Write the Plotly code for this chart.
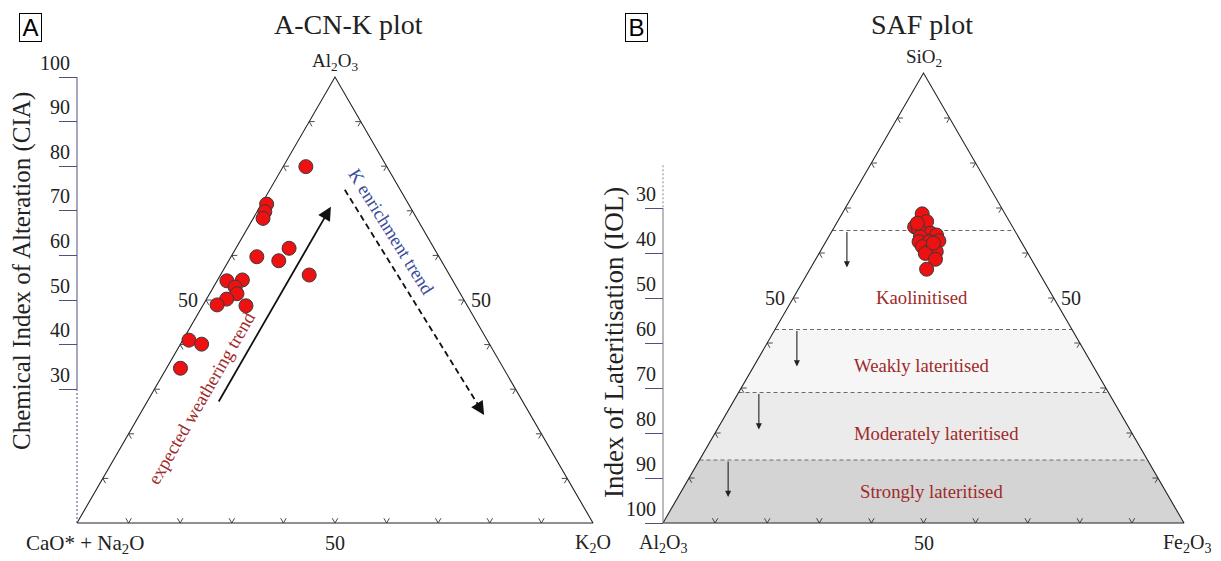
import math
import plotly.graph_objects as go

# ---------------- data (molar proportions) ----------------
# Panel A : A-CN-K diagram  (A = Al2O3, CN = CaO* + Na2O, K = K2O)
acnk_A = [79.9, 71.5, 69.8, 68.3, 59.7, 61.6, 58.8, 55.6, 54.3, 54.5, 52.9, 51.4, 50.2, 48.9, 48.7, 41.0, 40.1, 34.7]
acnk_CN = [15.7, 27.5, 28.7, 29.8, 35.3, 28.1, 31.5, 27.2, 43.8, 40.7, 42.9, 43.3, 45.9, 48.4, 42.9, 57.8, 55.8, 62.6]
acnk_K = [4.4, 1.0, 1.5, 1.9, 5.0, 10.3, 9.7, 17.2, 1.9, 4.8, 4.2, 5.3, 3.9, 2.7, 8.4, 1.2, 4.1, 2.7]

# Panel B : SAF diagram (SiO2, Al2O3, Fe2O3)
saf_Si = [68.7, 67.0, 65.8, 65.3, 64.4, 64.0, 62.7, 63.6, 62.5, 62.5, 61.4, 60.7, 60.3, 59.9, 58.6, 56.4, 66.6, 62.2]
saf_Al = [15.9, 15.9, 18.8, 18.3, 16.4, 15.5, 15.7, 18.8, 19.6, 17.7, 19.5, 18.3, 17.4, 19.7, 18.4, 21.2, 17.9, 17.0]
saf_Fe = [15.4, 17.1, 15.4, 16.4, 19.2, 20.5, 21.6, 17.6, 17.9, 19.8, 19.1, 21.0, 22.3, 20.4, 23.0, 22.4, 15.5, 20.8]

# IOL zone limits and names
zone_limits = [35, 57, 71, 86, 100]
zone_names = ["Kaolinitised", "Weakly lateritised", "Moderately lateritised", "Strongly lateritised"]
axis_ticks = [30, 40, 50, 60, 70, 80, 90, 100]

# ---------------- styling / geometry ----------------
W, H = 1221, 561
SERIF = "Liberation Serif, Times New Roman, serif"
SANS = "Liberation Sans, Arial, sans-serif"
RED_TXT = "#9e2a2a"
BLUE_TXT = "#3b4a9b"
TICK_COL = "#4f4f80"
ZONE_FILLS = [None, "#f6f6f6", "#ebebeb", "#d4d4d4"]
ZONE_LABEL_POS = [(49.7, 49.8), (49.7, 65.1), (52.4, 80.2), (51.6, 92.9)]
ZONE_ARROW_X = [35.3, 25.7, 18.4, 12.5]

PA = dict(x0=77, x1=593, top=77, bot=523)
PB = dict(x0=663, x1=1184, top=73, bot=523)
PAD = 3.0


def scales(p):
    return (p["x1"] - p["x0"]) / 100.0, (p["bot"] - p["top"]) / 100.0


def xdomain(p):
    sx, sy = scales(p)
    return [(p["x0"] - PAD * sx) / W, (p["x1"] + PAD * sx) / W]


def ydomain(p):
    sx, sy = scales(p)
    return [(H - (p["bot"] + PAD * sy)) / H, (H - (p["top"] - PAD * sy)) / H]


def acnk_xy(a, cn, k):
    s = a + cn + k
    return 100.0 * (k + a / 2.0) / s, 100.0 * a / s


def saf_xy(si, al, fe):
    s = si + al + fe
    return 100.0 * (fe + si / 2.0) / s, 100.0 * (al + fe) / s


def edge_ticks(verts, p, L=5.5):
    sx, sy = scales(p)
    xs, ys = [], []
    for i in range(3):
        P, Q, R = verts[i], verts[(i + 1) % 3], verts[(i + 2) % 3]
        dirs = []
        for S in (P, Q):
            dx, dy = R[0] - S[0], R[1] - S[1]
            ln = math.hypot(dx * sx, dy * sy)
            dirs.append((dx * L / ln, dy * L / ln))
        for j in range(1, 10):
            t = j / 10.0
            px = P[0] + (Q[0] - P[0]) * t
            py = P[1] + (Q[1] - P[1]) * t
            xs += [px + dirs[0][0], px, px + dirs[1][0], None]
            ys += [py + dirs[0][1], py, py + dirs[1][1], None]
    return xs, ys


fig = go.Figure()

# ---------- Panel B zones ----------
for zi in range(1, 4):
    lo, hi = zone_limits[zi], zone_limits[zi + 1]
    pts = [saf_xy(100 - lo, lo, 0), saf_xy(100 - lo, 0, lo), saf_xy(100 - hi, 0, hi), saf_xy(100 - hi, hi, 0)]
    fig.add_trace(go.Scatter(x=[q[0] for q in pts] + [pts[0][0]], y=[q[1] for q in pts] + [pts[0][1]],
                             fill="toself", fillcolor=ZONE_FILLS[zi], line=dict(width=0), mode="lines",
                             xaxis="x2", yaxis="y2", hoverinfo="skip", showlegend=False))
for v in zone_limits[:4]:
    l, r = saf_xy(100 - v, v, 0), saf_xy(100 - v, 0, v)
    fig.add_trace(go.Scatter(x=[l[0], r[0]], y=[l[1], r[1]], mode="lines",
                             line=dict(color="#6a6a6a", width=1, dash="4px,3px"),
                             xaxis="x2", yaxis="y2", hoverinfo="skip", showlegend=False))

# ---------- triangles ----------
vertsA = [acnk_xy(0, 100, 0), acnk_xy(0, 0, 100), acnk_xy(100, 0, 0)]
vertsB = [saf_xy(0, 100, 0), saf_xy(0, 0, 100), saf_xy(100, 0, 0)]
for verts, p, xa, ya in [(vertsA, PA, "x", "y"), (vertsB, PB, "x2", "y2")]:
    fig.add_trace(go.Scatter(x=[v[0] for v in verts] + [verts[0][0]], y=[v[1] for v in verts] + [verts[0][1]],
                             mode="lines", line=dict(color="#222", width=1.1),
                             xaxis=xa, yaxis=ya, hoverinfo="skip", showlegend=False))
    tx, ty = edge_ticks(verts, p)
    fig.add_trace(go.Scatter(x=tx, y=ty, mode="lines", line=dict(color="#333", width=0.9),
                             xaxis=xa, yaxis=ya, hoverinfo="skip", showlegend=False))

# ---------- K enrichment dashed arrow shaft ----------
k_tail, k_head = (51.9, 74.7), (78.9, 24.2)
fig.add_trace(go.Scatter(x=[k_tail[0], k_head[0] - 0.9], y=[k_tail[1], k_head[1] + 1.8], mode="lines",
                         line=dict(color="#111", width=1.8, dash="6px,4px"),
                         xaxis="x", yaxis="y", hoverinfo="skip", showlegend=False))

# ---------- samples ----------
ax_, ay_ = zip(*[acnk_xy(a, c, k) for a, c, k in zip(acnk_A, acnk_CN, acnk_K)])
fig.add_trace(go.Scatter(x=list(ax_), y=list(ay_), mode="markers",
                         marker=dict(size=14, color="#ee1111", line=dict(color="#3a3a3a", width=1)),
                         xaxis="x", yaxis="y", name="A-CN-K", showlegend=False))
bx_, by_ = zip(*[saf_xy(s, a, f) for s, a, f in zip(saf_Si, saf_Al, saf_Fe)])
fig.add_trace(go.Scatter(x=list(bx_), y=list(by_), mode="markers",
                         marker=dict(size=14, color="#ee1111", line=dict(color="#3a3a3a", width=1)),
                         xaxis="x2", yaxis="y2", name="SAF", showlegend=False))

# ---------- axes ----------
yax_common = dict(tickmode="array", tickvals=axis_ticks, ticktext=[str(t) for t in axis_ticks],
                  ticks="outside", ticklen=18, tickwidth=1, tickcolor=TICK_COL,
                  ticklabelposition="outside top", ticklabelstandoff=3,
                  tickfont=dict(family=SERIF, size=20, color="#222"),
                  showline=False, showgrid=False, zeroline=False, anchor="free", automargin=False)
fig.update_layout(
    width=W, height=H, margin=dict(l=0, r=0, t=0, b=0, pad=0, autoexpand=False),
    paper_bgcolor="white", plot_bgcolor="rgba(0,0,0,0)",
    xaxis=dict(domain=xdomain(PA), range=[-PAD, 100 + PAD], visible=False, anchor="y", automargin=False),
    yaxis=dict(domain=ydomain(PA), range=[-PAD, 100 + PAD], position=PA["x0"] / W, **yax_common),
    xaxis2=dict(domain=xdomain(PB), range=[-PAD, 100 + PAD], visible=False, anchor="y2", automargin=False),
    yaxis2=dict(domain=ydomain(PB), range=[100 + PAD, -PAD], position=PB["x0"] / W, **yax_common),
)

shapes = [
    dict(type="line", xref="x", yref="y", x0=0, x1=0, y0=30, y1=100, line=dict(color=TICK_COL, width=1)),
    dict(type="line", xref="x", yref="y", x0=0, x1=0, y0=0, y1=30, line=dict(color=TICK_COL, width=1, dash="2px,2px")),
    dict(type="line", xref="x2", yref="y2", x0=0, x1=0, y0=30, y1=100, line=dict(color="#777", width=1)),
    dict(type="line", xref="x2", yref="y2", x0=0, x1=0, y0=20.5, y1=30, line=dict(color="#888", width=1, dash="2px,2px")),
]
fig.update_layout(shapes=shapes)

ann = []


def txt(text, x, y, xref="paper", yref="paper", size=20, color="#222", family=SERIF, **kw):
    d = dict(text=text, x=x, y=y, xref=xref, yref=yref, showarrow=False,
             xanchor="center", yanchor="middle",
             font=dict(family=family, size=size, color=color))
    d.update(kw)
    ann.append(d)


# titles and panel letters
txt("A-CN-K plot", 348 / W, 1 - 25 / H, size=28)
txt("SAF plot", 922 / W, 1 - 25 / H, size=28)
txt("A", 30.5 / W, 1 - 27.5 / H, size=24, family=SANS, color="#000", bordercolor="#000", borderwidth=1,
    borderpad=1, width=19, height=25)
txt("B", 636.5 / W, 1 - 27.5 / H, size=24, family=SANS, color="#000", bordercolor="#000", borderwidth=1,
    borderpad=1, width=19, height=25)
# axis titles
txt("Chemical Index of Alteration (CIA)", 22 / W, 1 - 271 / H, size=25, textangle=-90)
txt("Index of Lateritisation (IOL)", 614 / W, 1 - 343 / H, size=27, textangle=-90)

# vertex labels
txt("Al<sub>2</sub>O<sub>3</sub>", 50, 100, "x", "y", size=19, yanchor="bottom", yshift=1)
txt("CaO* + Na<sub>2</sub>O", 0, 0, "x", "y", size=21, yanchor="top", yshift=-6, xshift=8)
txt("K<sub>2</sub>O", 100, 0, "x", "y", size=20, yanchor="top", yshift=-6)
txt("SiO<sub>2</sub>", 50, 0, "x2", "y2", size=19, yanchor="bottom", yshift=1)
txt("Al<sub>2</sub>O<sub>3</sub>", 0, 100, "x2", "y2", size=20, yanchor="top", yshift=-6)
txt("Fe<sub>2</sub>O<sub>3</sub>", 100, 100, "x2", "y2", size=20, yanchor="top", yshift=-6, xshift=3)

# edge "50" labels
for xr, yr, ybase, ymid in [("x", "y", 0, 50), ("x2", "y2", 100, 50)]:
    txt("50", 25, ymid, xr, yr, size=20, xanchor="right", xshift=-6)
    txt("50", 75, ymid, xr, yr, size=20, xanchor="left", xshift=5)
    txt("50", 50, ybase, xr, yr, size=20, yanchor="top", yshift=-7)

# trend arrows (panel A)
ann.append(dict(xref="x", yref="y", axref="x", ayref="y", x=49.2, y=70.9, ax=27.3, ay=26.9, text="",
                showarrow=True, arrowhead=2, arrowsize=1.5, arrowwidth=1.8, arrowcolor="#111"))
ann.append(dict(xref="x", yref="y", x=k_head[0], y=k_head[1], ax=-5, ay=-8, text="",
                showarrow=True, arrowhead=2, arrowsize=1.5, arrowwidth=1.8, arrowcolor="#111"))
txt("expected weathering trend", 24.2, 28.0, "x", "y", size=18.5, color=RED_TXT, textangle=-60)
txt("K enrichment trend", 60.9, 65.3, "x", "y", size=18.5, color=BLUE_TXT, textangle=58)

# zone labels and arrows (panel B)
for name, (zx, zy) in zip(zone_names, ZONE_LABEL_POS):
    txt(name, zx, zy, "x2", "y2", size=18.7, color=RED_TXT)
for lim, axx in zip(zone_limits[:4], ZONE_ARROW_X):
    ann.append(dict(xref="x2", yref="y2", axref="x2", ayref="y2", x=axx, y=lim + 8.2, ax=axx, ay=lim,
                    text="", showarrow=True, arrowhead=2, arrowsize=1.1, arrowwidth=1.1, arrowcolor="#222"))

fig.update_layout(annotations=ann)
fig.write_html("out.html")
